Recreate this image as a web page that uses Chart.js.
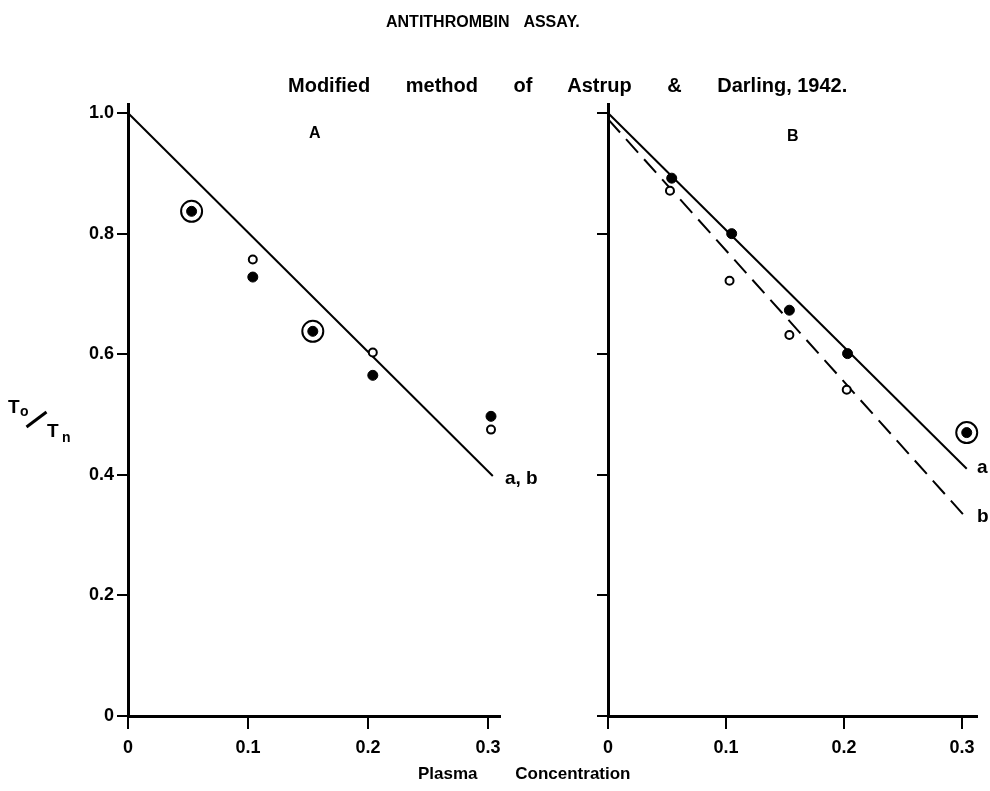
<!DOCTYPE html>
<html><head><meta charset="utf-8">
<script src="https://cdn.jsdelivr.net/npm/chart.js@4.4.0/dist/chart.umd.min.js"></script>
<style>
html,body{margin:0;padding:0;background:#fff;}
body{width:990px;height:791px;position:relative;overflow:hidden;font-family:"Liberation Sans",Arial,sans-serif;font-weight:bold;color:#000;}
.t{position:absolute;white-space:nowrap;line-height:1;}
canvas{position:absolute;top:0;}
</style></head><body>
<canvas id="cA" width="540" height="791" style="left:0px"></canvas>
<canvas id="cB" width="450" height="791" style="left:540px"></canvas>

<div class="t" style="left:386px;top:14px;font-size:16px;word-spacing:10px;font-family:'Liberation Sans Narrow','Liberation Sans',Arial,sans-serif;">ANTITHROMBIN ASSAY.</div>
<div class="t" style="left:288px;top:75px;font-size:20px;word-spacing:30px;">Modified method of Astrup &amp; <span style="word-spacing:normal">Darling, 1942.</span></div>
<div class="t" style="left:418px;top:765px;font-size:17px;word-spacing:33px;">Plasma Concentration</div>
<div class="t" style="left:309px;top:125px;font-size:16px;">A</div>
<div class="t" style="left:787px;top:128px;font-size:16px;">B</div>
<div class="t" style="left:505px;top:468px;font-size:19px;">a, b</div>
<div class="t" style="left:977px;top:457px;font-size:19px;">a</div>
<div class="t" style="left:977px;top:506px;font-size:19px;">b</div>
<!-- y-axis title T_o / T_n -->
<div class="t" style="left:8px;top:397px;font-size:19px;">T</div>
<div class="t" style="left:20px;top:404px;font-size:14px;">o</div>
<div style="position:absolute;left:24px;top:418px;width:25px;height:3px;background:#000;transform:rotate(-37deg);transform-origin:center;"></div>
<div class="t" style="left:47px;top:421px;font-size:19px;">T</div>
<div class="t" style="left:62px;top:430px;font-size:14px;">n</div>

<script>
// ---- tick values & labels ----
const xTickValues = [0, 0.1, 0.2, 0.3];
const xTickLabels = ['0', '0.1', '0.2', '0.3'];
const yTickValues = [0, 0.2, 0.4, 0.6, 0.8, 1.0];
const yTickLabels = ['0', '0.2', '0.4', '0.6', '0.8', '1.0'];

// ---- Panel A ----
const aFilledX = [0.104, 0.204, 0.3025];
const aFilledY = [0.728, 0.565, 0.497];
const aOpenX = [0.104, 0.204, 0.3025];
const aOpenY = [0.757, 0.603, 0.475];
const aCircledX = [0.053, 0.154];
const aCircledY = [0.837, 0.638];
const aLineX = [0, 0.304];
const aLineY = [1.0, 0.398];

// ---- Panel B ----
const bFilledX = [0.054, 0.1048, 0.1537, 0.203];
const bFilledY = [0.892, 0.80, 0.673, 0.601];
const bOpenX = [0.0525, 0.103, 0.1537, 0.2023];
const bOpenY = [0.871, 0.722, 0.632, 0.541];
const bCircledX = [0.304];
const bCircledY = [0.47];
const bLineAX = [0, 0.304];
const bLineAY = [1.0, 0.41];
const bLineBX = [0, 0.303];
const bLineBY = [0.99, 0.33];

function zip(xs, ys) { return xs.map((x, i) => ({x: x, y: ys[i]})); }

const FONT = {family: '"Liberation Sans", Arial, sans-serif', size: 18, weight: 'bold'};

function dots(xs, ys) {
  return {data: zip(xs, ys), pointRadius: 5, pointBorderWidth: 1, pointBackgroundColor: '#000', pointBorderColor: '#000', showLine: false, clip: false};
}
function opens(xs, ys) {
  return {data: zip(xs, ys), pointRadius: 4, pointBorderWidth: 2, pointBackgroundColor: '#fff', pointBorderColor: '#000', showLine: false, clip: false};
}
function rings(xs, ys) {
  return {data: zip(xs, ys), pointRadius: 10.5, pointBorderWidth: 2, pointBackgroundColor: 'rgba(0,0,0,0)', pointBorderColor: '#000', showLine: false, clip: false};
}
function line(xs, ys, dash) {
  return {data: zip(xs, ys), showLine: true, pointRadius: 0, borderColor: '#000', borderWidth: 2, borderDash: dash || [], fill: false, clip: false};
}

function makeChart(id, datasets, xmax, yAxisWidth, padRight, showYLabels) {
  return new Chart(document.getElementById(id), {
    type: 'scatter',
    data: {datasets: datasets},
    options: {
      responsive: false, animation: false, devicePixelRatio: 1,
      layout: {padding: {left: 0, right: padRight, top: 104, bottom: 35}},
      plugins: {legend: {display: false}, tooltip: {enabled: false}},
      scales: {
        x: {
          type: 'linear', min: 0, max: xmax,
          afterBuildTicks: s => { s.ticks = xTickValues.map(v => ({value: v})); },
          afterFit: s => { s.height = 40; },
          ticks: {callback: (v) => { const i = xTickValues.indexOf(v); return i >= 0 ? xTickLabels[i] : ''; }, font: FONT, color: '#000', padding: 8, maxRotation: 0, autoSkip: false},
          grid: {drawOnChartArea: false, drawTicks: true, tickLength: 13, color: '#000', lineWidth: 2},
          border: {display: true, color: '#000', width: 3}
        },
        y: {
          type: 'linear', min: 0, max: 1.015,
          afterBuildTicks: s => { s.ticks = yTickValues.map(v => ({value: v})); },
          afterFit: s => { s.width = yAxisWidth; },
          ticks: {display: showYLabels, callback: (v) => { const i = yTickValues.indexOf(v); return i >= 0 ? yTickLabels[i] : ''; }, font: FONT, color: '#000', padding: 3, autoSkip: false},
          grid: {drawOnChartArea: false, drawTicks: true, tickLength: 11, color: '#000', lineWidth: 2},
          border: {display: true, color: '#000', width: 3}
        }
      }
    }
  });
}

makeChart('cA', [
  dots(aFilledX, aFilledY),
  dots(aCircledX, aCircledY),
  rings(aCircledX, aCircledY),
  opens(aOpenX, aOpenY),
  line(aLineX, aLineY)
], 0.31, 128, 40, true);

makeChart('cB', [
  dots(bFilledX, bFilledY),
  dots(bCircledX, bCircledY),
  rings(bCircledX, bCircledY),
  opens(bOpenX, bOpenY),
  line(bLineAX, bLineAY),
  line(bLineBX, bLineBY, [18, 9])
], 0.3127, 68, 13, false);
</script>
</body></html>
